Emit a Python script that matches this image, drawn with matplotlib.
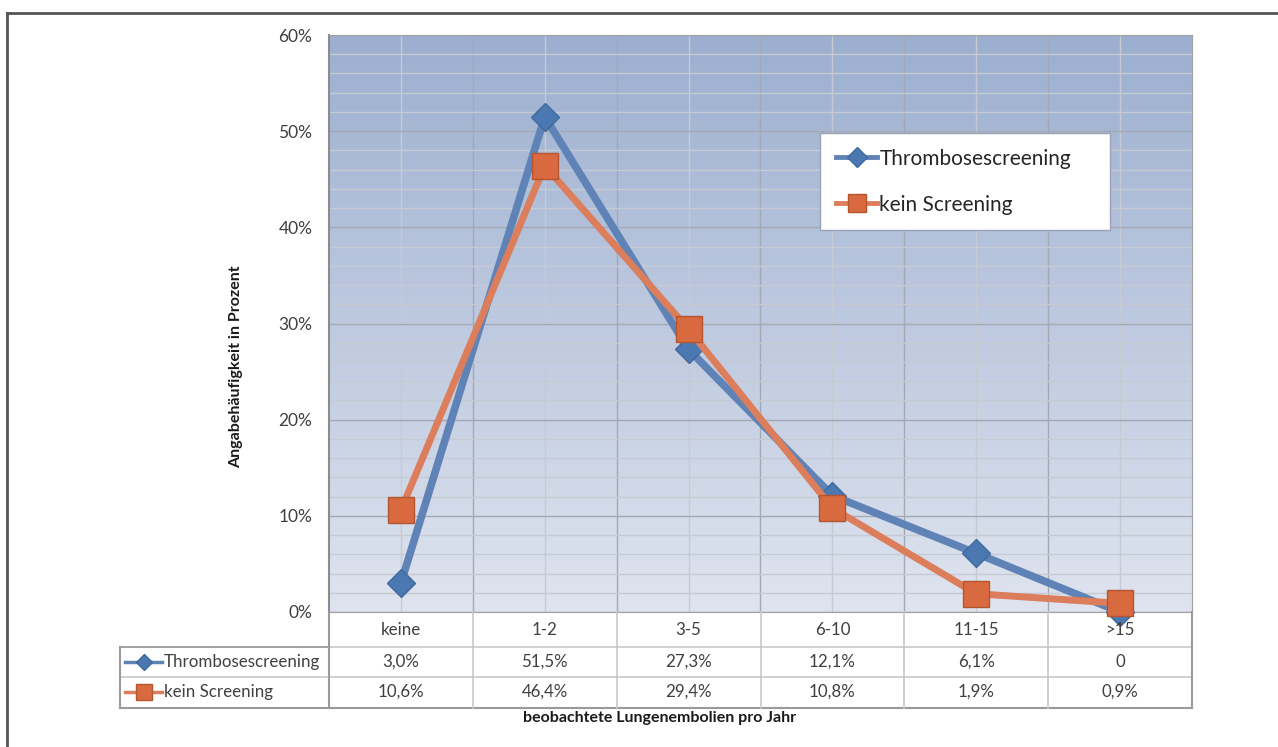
import numpy as np
import matplotlib
matplotlib.use("Agg")
import matplotlib.pyplot as plt
from matplotlib.colors import LinearSegmentedColormap
from matplotlib.lines import Line2D

plt.rcParams['font.family'] = ['Lato', 'DejaVu Sans']

categories = ["keine", "1-2", "3-5", "6-10", "11-15", ">15"]
screening = [3.0, 51.5, 27.3, 12.1, 6.1, 0.0]
no_screening = [10.6, 46.4, 29.4, 10.8, 1.9, 0.9]
series_names = ["Thrombosescreening", "kein Screening"]
y_ticks = [0, 10, 20, 30, 40, 50, 60]

BLUE = "#5f83b6"
BLUE_MK = "#4c78b2"
ORANGE = "#dc7d5c"
ORANGE_MK = "#d9693f"
TXT = "#404040"
FS = 12.5
FS_TAB = 12.2


def fmt(v):
    # values in the table use a decimal comma; zero is printed bare
    if v == 0:
        return "0"
    return f"{v:.1f}%".replace(".", ",")


W, H = 1278, 747
fig = plt.figure(figsize=(W / 100, H / 100), dpi=100)


def px(x0, y0, x1, y1):
    return [x0 / W, 1 - y1 / H, (x1 - x0) / W, (y1 - y0) / H]


ax = fig.add_axes(px(329, 35, 1192, 612))
n = len(categories)
x = np.arange(n)
ax.set_xlim(-0.5, n - 0.5)
ax.set_ylim(y_ticks[0], y_ticks[-1])

# vertical gradient behind the plot
cmap = LinearSegmentedColormap.from_list("bg", ["#9cafd0", "#dfe4ef"])
ax.imshow(np.linspace(0, 1, 256).reshape(-1, 1), cmap=cmap, aspect="auto",
          extent=[-0.5, n - 0.5, y_ticks[0], y_ticks[-1]], zorder=0)

ax.set_yticks(y_ticks)
ax.set_yticklabels([f"{t}%" for t in y_ticks], color=TXT, fontsize=FS)
ax.set_yticks(np.arange(0, 61, 2), minor=True)
ax.set_xticks(np.arange(0.5, n - 0.5, 1))
ax.set_xticks(x, minor=True)
ax.set_xticklabels([])
ax.tick_params(which="both", length=0, pad=12)
ax.grid(which="major", color="#a3a8b3", lw=1, zorder=1)
ax.grid(which="minor", color="#c6cad3", lw=1, zorder=1)
for s in ax.spines.values():
    s.set_color("#a0a0a0")
ax.spines["left"].set_linewidth(1.5)
ax.spines["left"].set_color("#8c8c8c")

ax.plot(x, screening, color=BLUE, lw=5.5, marker="D", ms=14,
        mfc=BLUE_MK, mec="#3f6aa0", mew=1, zorder=3, clip_on=False)
ax.plot(x, no_screening, color=ORANGE, lw=5, marker="s", ms=19,
        mfc=ORANGE_MK, mec="#b5552f", mew=1, zorder=4, clip_on=False)

h1 = Line2D([], [], color=BLUE, lw=3.5, marker="D", ms=10, mfc=BLUE_MK, mec="#3f6aa0")
h2 = Line2D([], [], color=ORANGE, lw=3.5, marker="s", ms=13, mfc=ORANGE_MK, mec="#b5552f")
leg = ax.legend([h1, h2], series_names, loc="upper left",
                bbox_to_anchor=(0.569, 0.674, 0.336, 0.156), mode="expand",
                fontsize=15, frameon=True, fancybox=False, framealpha=1,
                edgecolor="#9aa3b5", labelspacing=1.25, handlelength=2.0,
                handletextpad=0.1, borderpad=0.75, borderaxespad=0)
leg.get_frame().set_linewidth(1)
for t in leg.get_texts():
    t.set_color("#262626")

# data table under the plot
tax = fig.add_axes(px(120, 612, 1192, 708))
unit = (1192 - 329) / n
xl = -0.5 - (329 - 120) / unit
tax.set_xlim(xl, n - 0.5)
tax.set_ylim(96, 0)
tax.axis("off")
rows = [0, 35, 65, 96]
inner = "#c8c8c8"
outer = "#9a9a9a"
for r in rows[1:3]:
    tax.plot([xl, n - 0.5], [r, r], color=inner, lw=1.2, clip_on=False)
tax.plot([xl, n - 0.5], [96, 96], color=outer, lw=1.5, clip_on=False)
tax.plot([xl, -0.5], [35, 35], color=outer, lw=1.2, clip_on=False)
for b in np.arange(0.5, n - 0.5, 1):
    tax.plot([b, b], [0, 96], color=inner, lw=1.2, clip_on=False)
tax.plot([-0.5, -0.5], [0, 96], color=outer, lw=1.5, clip_on=False)
tax.plot([n - 0.5, n - 0.5], [0, 96], color=outer, lw=1.5, clip_on=False)
tax.plot([xl, xl], [35, 96], color=outer, lw=1.5, clip_on=False)

for i, c in enumerate(categories):
    tax.text(i, 18, c, ha="center", va="center", fontsize=FS_TAB, color=TXT)
for i in range(n):
    tax.text(i, 50, fmt(screening[i]), ha="center", va="center", fontsize=FS_TAB, color=TXT)
    tax.text(i, 80, fmt(no_screening[i]), ha="center", va="center", fontsize=FS_TAB, color=TXT)

hx = [xl + 5 / unit, xl + 42 / unit]
tax.plot(hx, [50, 50], color=BLUE, lw=2.5, clip_on=False)
tax.plot([np.mean(hx)], [50], marker="D", ms=8, mfc=BLUE_MK, mec="#3f6aa0", clip_on=False)
tax.plot(hx, [80, 80], color=ORANGE, lw=2.5, clip_on=False)
tax.plot([np.mean(hx)], [80], marker="s", ms=11, mfc=ORANGE_MK, mec="#b5552f", clip_on=False)
tax.text(xl + 44 / unit, 50, series_names[0], ha="left", va="center", fontsize=FS_TAB, color=TXT)
tax.text(xl + 44 / unit, 80, series_names[1], ha="left", va="center", fontsize=FS_TAB, color=TXT)

fig.text(660 / W, 1 - 718 / H, "beobachtete Lungenembolien pro Jahr",
         ha="center", va="center", fontsize=11.5, fontweight="bold", color="#1a1a1a")
fig.text(236 / W, 1 - 367 / H, "Angabehäufigkeit in Prozent", rotation=90,
         ha="center", va="center", fontsize=11.5, fontweight="bold", color="#1a1a1a")

# outer frame (top and left edges)
fig.add_artist(Line2D([7 / W, 7 / W], [0, 1 - 13 / H], color="#555555", lw=2))
fig.add_artist(Line2D([7 / W, 1], [1 - 13 / H, 1 - 13 / H], color="#555555", lw=2))

fig.savefig("out.png", dpi=100)
